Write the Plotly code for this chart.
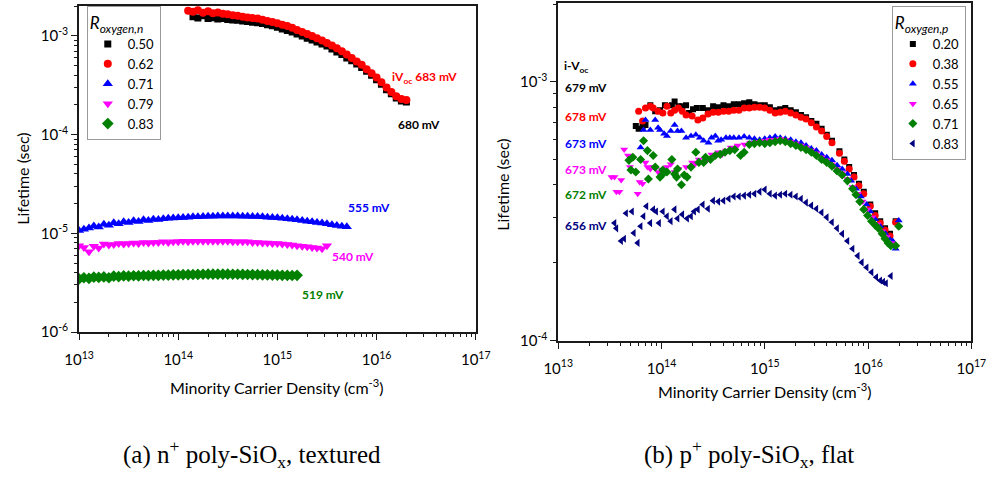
import plotly.graph_objects as go

W, H = 999, 477

# ---------------- (a) n+ poly-SiOx, textured ----------------
# carrier-density sampling of the lifetime sweeps (cm^-3)
n_left = [
    1.00e13, 1.12e13, 1.26e13, 1.41e13, 1.58e13, 1.78e13, 2.00e13, 2.24e13, 2.51e13, 2.82e13,
    3.16e13, 3.55e13, 3.98e13, 4.47e13, 5.01e13, 5.62e13, 6.31e13, 7.08e13, 7.94e13, 8.91e13,
    1.00e14, 1.12e14, 1.26e14, 1.41e14, 1.58e14, 1.78e14, 2.00e14, 2.24e14, 2.51e14, 2.82e14,
    3.16e14, 3.55e14, 3.98e14, 4.47e14, 5.01e14, 5.62e14, 6.31e14, 7.08e14, 7.94e14, 8.91e14,
    1.00e15, 1.12e15, 1.26e15, 1.41e15, 1.58e15, 1.78e15, 2.00e15, 2.24e15, 2.51e15, 2.82e15,
    3.16e15, 3.55e15, 3.98e15, 4.47e15, 5.01e15, 5.62e15, 6.31e15, 7.08e15, 7.94e15, 8.91e15,
    1.00e16, 1.12e16, 1.26e16, 1.41e16, 1.58e16, 1.78e16, 2.00e16,
]

# lifetimes (s); each series starts at the given index of n_left
tau_n050 = [
    1.57e-3, 1.52e-3, 1.60e-3, 1.50e-3, 1.53e-3, 1.49e-3, 1.50e-3, 1.47e-3, 1.45e-3, 1.44e-3,
    1.42e-3, 1.40e-3, 1.38e-3, 1.36e-3, 1.34e-3, 1.30e-3, 1.27e-3, 1.23e-3, 1.18e-3, 1.14e-3,
    1.10e-3, 1.05e-3, 1.00e-3, 9.5e-4, 9.1e-4, 8.7e-4, 8.3e-4, 7.9e-4, 7.4e-4, 6.9e-4,
    6.5e-4, 6.0e-4, 5.6e-4, 5.2e-4, 4.8e-4, 4.4e-4, 4.0e-4, 3.6e-4, 3.25e-4, 2.85e-4,
    2.6e-4, 2.35e-4, 2.2e-4, 2.14e-4,
]
tau_n062 = [
    1.80e-3, 1.76e-3, 1.82e-3, 1.72e-3, 1.78e-3, 1.70e-3, 1.73e-3, 1.68e-3, 1.66e-3, 1.62e-3,
    1.60e-3, 1.57e-3, 1.54e-3, 1.52e-3, 1.50e-3, 1.46e-3, 1.42e-3, 1.39e-3, 1.35e-3, 1.30e-3,
    1.26e-3, 1.21e-3, 1.15e-3, 1.10e-3, 1.05e-3, 1.00e-3, 9.5e-4, 9.0e-4, 8.5e-4, 8.0e-4,
    7.5e-4, 7.0e-4, 6.5e-4, 6.0e-4, 5.5e-4, 5.1e-4, 4.6e-4, 4.2e-4, 3.8e-4, 3.4e-4,
    3.0e-4, 2.7e-4, 2.45e-4, 2.3e-4, 2.25e-4,
]
tau_n071 = [
    1.07e-5, 1.10e-5, 1.13e-5, 1.19e-5, 1.16e-5, 1.24e-5, 1.21e-5, 1.28e-5, 1.25e-5, 1.31e-5,
    1.29e-5, 1.34e-5, 1.32e-5, 1.37e-5, 1.35e-5, 1.39e-5, 1.38e-5, 1.41e-5, 1.42e-5, 1.43e-5,
    1.44e-5, 1.45e-5, 1.46e-5, 1.47e-5, 1.47e-5, 1.48e-5, 1.49e-5, 1.49e-5, 1.50e-5, 1.50e-5,
    1.50e-5, 1.50e-5, 1.50e-5, 1.49e-5, 1.49e-5, 1.48e-5, 1.48e-5, 1.47e-5, 1.46e-5, 1.45e-5,
    1.44e-5, 1.42e-5, 1.41e-5, 1.39e-5, 1.37e-5, 1.35e-5, 1.33e-5, 1.31e-5, 1.29e-5, 1.27e-5,
    1.25e-5, 1.22e-5, 1.20e-5, 1.18e-5, 1.17e-5,
]
tau_n079 = [
    7.5e-6, 7.2e-6, 6.5e-6, 7.4e-6, 7.1e-6, 7.8e-6, 7.6e-6, 7.7e-6, 7.9e-6, 7.8e-6,
    7.9e-6, 8.0e-6, 7.9e-6, 8.1e-6, 8.0e-6, 8.1e-6, 8.1e-6, 8.2e-6, 8.1e-6, 8.2e-6,
    8.2e-6, 8.3e-6, 8.2e-6, 8.3e-6, 8.3e-6, 8.3e-6, 8.3e-6, 8.3e-6, 8.3e-6, 8.3e-6,
    8.3e-6, 8.2e-6, 8.2e-6, 8.2e-6, 8.2e-6, 8.1e-6, 8.1e-6, 8.0e-6, 8.0e-6, 7.9e-6,
    7.9e-6, 7.8e-6, 7.7e-6, 7.6e-6, 7.5e-6, 7.4e-6, 7.3e-6, 7.2e-6, 7.1e-6, 7.0e-6,
    7.5e-6,
]
tau_n083 = [
    3.45e-6, 3.55e-6, 3.50e-6, 3.60e-6, 3.58e-6, 3.62e-6, 3.55e-6, 3.68e-6, 3.65e-6, 3.70e-6,
    3.68e-6, 3.72e-6, 3.70e-6, 3.74e-6, 3.73e-6, 3.76e-6, 3.75e-6, 3.78e-6, 3.77e-6, 3.79e-6,
    3.80e-6, 3.81e-6, 3.82e-6, 3.83e-6, 3.84e-6, 3.85e-6, 3.86e-6, 3.86e-6, 3.86e-6, 3.86e-6,
    3.86e-6, 3.85e-6, 3.85e-6, 3.84e-6, 3.83e-6, 3.82e-6, 3.81e-6, 3.80e-6, 3.79e-6, 3.78e-6,
    3.77e-6, 3.76e-6, 3.75e-6, 3.74e-6, 3.76e-6,
]

# ---------------- (b) p+ poly-SiOx, flat ----------------
n_p020 = [
    5.64e13, 6.01e13, 6.56e13, 7.00e13, 7.80e13, 8.69e13, 9.68e13, 1.08e14, 1.26e14, 1.34e14,
    1.46e14, 1.59e14, 1.73e14, 1.85e14, 2.02e14, 2.20e14,
    2.51e14, 2.82e14, 3.16e14, 3.55e14, 3.98e14, 4.47e14, 5.01e14, 5.62e14, 6.31e14, 7.08e14,
    7.94e14, 8.91e14, 1.00e15, 1.12e15, 1.26e15, 1.41e15, 1.58e15, 1.78e15, 2.00e15, 2.24e15,
    2.51e15, 2.82e15, 3.16e15, 3.55e15, 3.98e15, 4.47e15,
    5.28e15, 5.89e15, 6.56e15, 7.31e15, 8.15e15, 9.08e15, 1.05e16, 1.17e16, 1.31e16, 1.46e16,
    1.63e16, 1.85e16,
]
tau_p020 = [
    6.76e-4, 6.59e-4, 6.76e-4, 6.82e-4, 8.13e-4, 7.71e-4, 7.78e-4, 8.13e-4, 8.13e-4, 8.41e-4,
    8.06e-4, 8.06e-4, 8.13e-4, 7.58e-4, 7.85e-4, 7.93e-4,
    7.93e-4, 7.78e-4, 8.06e-4, 7.99e-4, 8.13e-4, 8.06e-4, 8.20e-4, 8.20e-4, 8.27e-4, 8.34e-4,
    8.20e-4, 8.13e-4, 8.13e-4, 7.99e-4, 7.78e-4, 7.85e-4, 7.93e-4, 7.78e-4, 7.64e-4, 7.45e-4,
    7.31e-4, 7.06e-4, 6.89e-4, 6.59e-4, 6.25e-4, 5.93e-4,
    5.40e-4, 5.02e-4, 4.69e-4, 4.37e-4, 4.04e-4, 3.77e-4, 3.36e-4, 3.11e-4, 2.90e-4, 2.72e-4,
    2.59e-4, 2.90e-4,
]
n_p038 = [
    6.01e13, 6.56e13, 7.00e13, 7.80e13, 8.32e13, 9.27e13, 1.03e14, 1.13e14, 1.23e14, 1.34e14,
    1.46e14, 1.59e14, 1.73e14, 1.98e14, 2.25e14,
    2.51e14, 2.82e14, 3.16e14, 3.55e14, 3.98e14, 4.47e14, 5.01e14, 5.62e14, 6.31e14, 7.08e14,
    7.94e14, 8.91e14, 1.00e15, 1.12e15, 1.26e15, 1.41e15, 1.58e15, 1.78e15, 2.00e15, 2.24e15,
    2.51e15, 2.82e15, 3.16e15, 3.55e15, 3.98e15, 4.47e15,
    5.28e15, 5.89e15, 6.56e15, 7.31e15, 8.15e15, 9.08e15, 1.05e16, 1.17e16, 1.31e16, 1.46e16,
    1.63e16, 1.85e16,
]
tau_p038 = [
    7.71e-4, 7.06e-4, 7.93e-4, 8.06e-4, 7.93e-4, 7.71e-4, 7.58e-4, 8.06e-4, 7.58e-4, 7.78e-4,
    7.93e-4, 7.71e-4, 7.45e-4, 7.38e-4, 7.13e-4,
    7.26e-4, 7.52e-4, 7.64e-4, 7.64e-4, 7.71e-4, 7.71e-4, 7.78e-4, 7.78e-4, 7.93e-4, 7.93e-4,
    7.99e-4, 7.99e-4, 7.93e-4, 7.78e-4, 7.58e-4, 7.64e-4, 7.71e-4, 7.58e-4, 7.45e-4, 7.31e-4,
    7.19e-4, 6.95e-4, 6.70e-4, 6.47e-4, 6.15e-4, 5.83e-4,
    5.30e-4, 4.94e-4, 4.61e-4, 4.29e-4, 3.97e-4, 3.70e-4, 3.31e-4, 3.05e-4, 2.85e-4, 2.68e-4,
    2.54e-4, 2.87e-4,
]
n_p055 = [
    6.28e13, 6.70e13, 7.00e13, 7.80e13, 8.69e13, 9.27e13, 9.68e13, 1.06e14, 1.13e14, 1.23e14,
    1.34e14, 1.43e14, 1.56e14, 1.73e14, 1.93e14, 2.15e14, 2.35e14, 2.56e14, 2.85e14, 3.05e14,
    3.32e14, 3.54e14, 3.78e14, 4.21e14, 4.59e14,
    5.01e14, 5.62e14, 6.31e14, 7.08e14, 7.94e14, 8.91e14, 1.00e15, 1.12e15, 1.26e15, 1.41e15,
    1.58e15, 1.78e15, 2.00e15, 2.24e15, 2.51e15, 2.82e15, 3.16e15, 3.55e15, 3.98e15, 4.47e15,
    5.01e15, 5.62e15, 6.31e15,
    6.85e15, 7.64e15, 8.51e15, 9.68e15, 1.05e16, 1.17e16, 1.31e16, 1.46e16, 1.59e16, 1.73e16,
    1.85e16, 1.98e16,
]
tau_p055 = [
    5.58e-4, 6.53e-4, 7.13e-4, 6.53e-4, 7.13e-4, 6.65e-4, 6.53e-4, 6.31e-4, 6.19e-4, 6.47e-4,
    6.82e-4, 6.47e-4, 6.47e-4, 6.09e-4, 6.19e-4, 6.25e-4, 6.09e-4, 5.93e-4, 5.83e-4, 6.09e-4,
    6.19e-4, 5.93e-4, 5.98e-4, 6.09e-4, 6.09e-4,
    6.09e-4, 6.09e-4, 6.15e-4, 6.09e-4, 6.04e-4, 5.98e-4, 6.04e-4, 6.09e-4, 6.15e-4, 6.09e-4,
    6.04e-4, 5.98e-4, 5.88e-4, 5.83e-4, 5.68e-4, 5.53e-4, 5.43e-4, 5.25e-4, 5.12e-4, 4.98e-4,
    4.77e-4, 4.61e-4, 4.41e-4,
    4.15e-4, 3.87e-4, 3.61e-4, 3.36e-4, 3.16e-4, 2.95e-4, 2.77e-4, 2.61e-4, 2.49e-4, 2.43e-4,
    2.27e-4, 2.92e-4,
]
n_p065 = [
    3.28e13, 3.51e13, 3.66e13, 3.91e13, 4.07e13, 4.35e13, 4.74e13, 4.95e13, 5.89e13, 6.15e13,
    6.56e13, 7.00e13, 7.31e13, 7.80e13, 8.32e13, 9.27e13, 1.01e14, 1.13e14, 1.23e14, 1.34e14,
    1.46e14, 1.73e14, 1.98e14, 2.11e14, 2.30e14, 2.74e14, 3.05e14, 3.54e14, 3.86e14, 4.21e14,
    4.69e14, 5.46e14, 6.35e14, 7.23e14, 8.41e14,
    1.00e15, 1.12e15, 1.26e15, 1.41e15, 1.58e15, 1.78e15, 2.00e15, 2.24e15, 2.51e15, 2.82e15,
    3.16e15, 3.55e15, 3.98e15, 4.47e15, 5.01e15, 5.62e15, 6.31e15, 7.08e15,
    7.96e15, 8.87e15, 9.89e15, 1.10e16, 1.23e16, 1.37e16, 1.52e16, 1.70e16,
]
tau_p065 = [
    4.29e-4, 4.29e-4, 3.77e-4, 3.77e-4, 4.18e-4, 5.48e-4, 5.20e-4, 4.69e-4, 3.70e-4, 4.11e-4,
    4.04e-4, 4.89e-4, 4.69e-4, 4.61e-4, 4.69e-4, 4.49e-4, 4.57e-4, 4.69e-4, 4.81e-4, 4.49e-4,
    4.61e-4, 4.69e-4, 4.89e-4, 4.81e-4, 5.02e-4, 4.98e-4, 5.25e-4, 5.35e-4, 5.25e-4, 5.43e-4,
    5.58e-4, 5.68e-4, 5.73e-4, 5.83e-4, 5.88e-4,
    5.93e-4, 5.98e-4, 5.98e-4, 6.04e-4, 5.98e-4, 5.88e-4, 5.78e-4, 5.68e-4, 5.58e-4, 5.43e-4,
    5.30e-4, 5.12e-4, 4.98e-4, 4.81e-4, 4.61e-4, 4.45e-4, 4.22e-4, 3.93e-4,
    3.70e-4, 3.45e-4, 3.22e-4, 3.00e-4, 2.82e-4, 2.65e-4, 2.52e-4, 2.39e-4,
]
n_p071 = [
    4.84e13, 5.06e13, 5.28e13, 5.64e13, 6.28e13, 6.70e13, 7.31e13, 7.47e13, 8.32e13, 8.69e13,
    9.68e13, 1.01e14, 1.03e14, 1.13e14, 1.26e14, 1.34e14, 1.40e14, 1.43e14, 1.56e14, 1.66e14,
    1.77e14, 1.93e14, 2.15e14, 2.30e14, 2.56e14, 2.67e14, 2.98e14, 3.32e14, 3.70e14, 4.12e14,
    4.59e14, 5.12e14, 5.82e14,
    6.31e14, 7.08e14, 7.94e14, 8.91e14, 1.00e15, 1.12e15, 1.26e15, 1.41e15, 1.58e15, 1.78e15,
    2.00e15, 2.24e15, 2.51e15, 2.82e15, 3.16e15, 3.55e15, 3.98e15, 4.47e15, 5.01e15, 5.62e15,
    6.31e15, 7.08e15,
    7.64e15, 8.32e15, 9.08e15, 9.89e15, 1.08e16, 1.17e16, 1.26e16, 1.37e16, 1.46e16, 1.56e16,
    1.66e16, 1.85e16, 1.98e16,
]
tau_p071 = [
    4.98e-4, 4.57e-4, 5.12e-4, 4.49e-4, 5.02e-4, 5.93e-4, 5.43e-4, 4.22e-4, 5.20e-4, 4.69e-4,
    4.29e-4, 4.37e-4, 4.57e-4, 4.49e-4, 5.02e-4, 4.41e-4, 4.29e-4, 4.61e-4, 4.01e-4, 4.37e-4,
    4.29e-4, 4.69e-4, 5.35e-4, 4.89e-4, 4.89e-4, 5.12e-4, 5.02e-4, 5.20e-4, 5.25e-4, 5.35e-4,
    5.43e-4, 5.48e-4, 5.20e-4,
    5.35e-4, 5.73e-4, 5.78e-4, 5.83e-4, 5.78e-4, 5.83e-4, 5.88e-4, 5.93e-4, 5.88e-4, 5.78e-4,
    5.68e-4, 5.58e-4, 5.48e-4, 5.35e-4, 5.20e-4, 5.02e-4, 4.89e-4, 4.73e-4, 4.53e-4, 4.37e-4,
    4.15e-4, 3.87e-4,
    3.67e-4, 3.45e-4, 3.22e-4, 3.05e-4, 2.90e-4, 2.80e-4, 2.72e-4, 2.59e-4, 2.48e-4, 2.39e-4,
    2.33e-4, 2.33e-4, 2.77e-4,
]
n_p083 = [
    3.51e13, 3.66e13, 4.07e13, 4.35e13, 4.54e13, 5.18e13, 5.40e13, 5.89e13, 6.28e13, 6.70e13,
    7.15e13, 7.80e13, 8.32e13, 8.87e13, 9.48e13, 1.03e14, 1.13e14, 1.23e14, 1.34e14, 1.43e14,
    1.59e14, 1.77e14, 1.93e14, 2.07e14, 2.25e14,
    2.51e14, 2.82e14, 3.16e14, 3.55e14, 3.98e14, 4.47e14, 5.01e14, 5.62e14, 6.31e14, 7.08e14,
    7.94e14, 8.91e14, 1.00e15, 1.12e15, 1.26e15, 1.41e15, 1.58e15, 1.78e15, 2.00e15, 2.24e15,
    2.51e15, 2.82e15, 3.16e15, 3.55e15, 3.98e15, 4.47e15, 5.01e15, 5.62e15, 6.31e15, 7.08e15,
    7.94e15,
    8.69e15, 9.68e15, 1.08e16, 1.20e16, 1.31e16, 1.40e16, 1.49e16, 1.66e16,
]
tau_p083 = [
    2.85e-4, 2.72e-4, 2.43e-4, 2.48e-4, 3.11e-4, 3.16e-4, 2.61e-4, 2.39e-4, 2.77e-4, 3.03e-4,
    3.31e-4, 2.85e-4, 3.22e-4, 3.16e-4, 2.85e-4, 3.16e-4, 3.03e-4, 2.90e-4, 3.22e-4, 2.97e-4,
    3.08e-4, 2.97e-4, 3.03e-4, 3.16e-4, 3.22e-4,
    3.36e-4, 3.24e-4, 3.48e-4, 3.45e-4, 3.48e-4, 3.54e-4, 3.61e-4, 3.61e-4, 3.64e-4, 3.67e-4,
    3.70e-4, 3.77e-4, 3.84e-4, 3.70e-4, 3.64e-4, 3.67e-4, 3.70e-4, 3.67e-4, 3.61e-4, 3.54e-4,
    3.42e-4, 3.33e-4, 3.24e-4, 3.13e-4, 3.00e-4, 2.87e-4, 2.72e-4, 2.59e-4, 2.43e-4, 2.27e-4,
    2.13e-4,
    2.01e-4, 1.92e-4, 1.84e-4, 1.76e-4, 1.71e-4, 1.69e-4, 1.67e-4, 1.78e-4,
]

# legend entries and implied-Voc labels
ratio_n = ["0.50", "0.62", "0.71", "0.79", "0.83"]
ratio_p = ["0.20", "0.38", "0.55", "0.65", "0.71", "0.83"]
ivoc_n = ["680 mV", "683 mV", "555 mV", "540 mV", "519 mV"]
ivoc_p = ["679 mV", "678 mV", "673 mV", "673 mV", "672 mV", "656 mV"]

# axis tick labels
x_ticks = [1e13, 1e14, 1e15, 1e16, 1e17]
x_tick_text = ["10<sup>13</sup>", "10<sup>14</sup>", "10<sup>15</sup>", "10<sup>16</sup>", "10<sup>17</sup>"]
y_ticks_a = [1e-6, 1e-5, 1e-4, 1e-3]
y_tick_text_a = ["10<sup>-6</sup>", "10<sup>-5</sup>", "10<sup>-4</sup>", "10<sup>-3</sup>"]
y_ticks_b = [1e-4, 1e-3]
y_tick_text_b = ["10<sup>-4</sup>", "10<sup>-3</sup>"]

BLACK, RED, BLUE, MAGENTA, GREEN, NAVY = "#000000", "#FF0000", "#0000FF", "#FF00FF", "#008000", "#000080"
SANS = "Lato"


def fx(px):
    return px / W


def fy(py):
    return 1 - py / H


fig = go.Figure()

# panel (a) traces
left_series = [
    (tau_n050, 23, BLACK, "square", 7),
    (tau_n062, 22, RED, "circle", 8),
    (tau_n071, 0, BLUE, "triangle-up", 9),
    (tau_n079, 0, MAGENTA, "triangle-down", 9),
    (tau_n083, 0, GREEN, "diamond", 9),
]
for name, (tau, start, color, symbol, size) in zip(ratio_n, left_series):
    fig.add_trace(go.Scatter(
        x=n_left[start:start + len(tau)], y=tau, mode="markers", name=name,
        marker=dict(symbol=symbol, color=color, size=size, line=dict(width=0)),
        xaxis="x", yaxis="y", legend="legend",
    ))

# panel (b) traces
right_series = [
    (n_p020, tau_p020, BLACK, "square", 6),
    (n_p038, tau_p038, RED, "circle", 7),
    (n_p055, tau_p055, BLUE, "triangle-up", 7),
    (n_p065, tau_p065, MAGENTA, "triangle-down", 7),
    (n_p071, tau_p071, GREEN, "diamond", 7),
    (n_p083, tau_p083, NAVY, "triangle-left", 7),
]
for name, (n, tau, color, symbol, size) in zip(ratio_p, right_series):
    fig.add_trace(go.Scatter(
        x=n, y=tau, mode="markers", name=name,
        marker=dict(symbol=symbol, color=color, size=size, line=dict(width=0)),
        xaxis="x2", yaxis="y2", legend="legend2",
    ))

minor_x = [m * 10 ** e for e in range(13, 17) for m in range(2, 10)]
minor_ya = [m * 10.0 ** e for e in range(-6, -3) for m in range(2, 10)] + [2e-3]
minor_yb = [m * 10.0 ** -4 for m in range(2, 10)] + [2e-3]

AX = dict(
    type="log", showline=True, linecolor="#1a1a1a", linewidth=1.6, mirror=True,
    ticks="outside", ticklen=6, tickwidth=1.4, tickcolor="#1a1a1a",
    showgrid=False, zeroline=False, tickmode="array",
    tickfont=dict(family=SANS, size=15, color="black"),
)


def minor(vals):
    return dict(tickmode="array", tickvals=vals, ticks="outside", ticklen=3.5,
                tickwidth=1.2, tickcolor="#1a1a1a", showgrid=False)


LEGEND = dict(
    xanchor="left", yanchor="top",
    bgcolor="white", bordercolor="#9a9a9a", borderwidth=1,
    font=dict(family=SANS, size=13, color="black"),
    tracegroupgap=0, itemwidth=30,
)

fig.update_layout(
    width=W, height=H, margin=dict(l=0, r=0, t=0, b=0),
    paper_bgcolor="white", plot_bgcolor="white",
    font=dict(family=SANS, color="black"),
    xaxis=dict(AX, domain=[fx(66), fx(475)], range=[13, 17], anchor="y",
               tickvals=x_ticks, ticktext=x_tick_text, minor=minor(minor_x),
               ticklabelstandoff=7),
    yaxis=dict(AX, domain=[fy(337.7), fy(6)], range=[-6, -2.695], anchor="x",
               tickvals=y_ticks_a, ticktext=y_tick_text_a, minor=minor(minor_ya)),
    xaxis2=dict(AX, domain=[fx(560), fx(986)], range=[13, 17], anchor="y2",
                tickvals=x_ticks, ticktext=x_tick_text, minor=minor(minor_x),
                ticklabelstandoff=7),
    yaxis2=dict(AX, domain=[fy(346.7), fy(3.3)], range=[-4, -2.696], anchor="x2",
                tickvals=y_ticks_b, ticktext=y_tick_text_b, minor=minor(minor_yb)),
    legend=dict(LEGEND, x=fx(74), y=fy(6),
                title=dict(text="<i>R</i><sub><i>oxygen,n</i></sub>",
                           font=dict(family=SANS, size=17))),
    legend2=dict(LEGEND, x=fx(904), y=fy(6),
                 title=dict(text="<i>R</i><sub><i>oxygen,p</i></sub>",
                            font=dict(family=SANS, size=17))),
    showlegend=True,
)

ann = []


def label(text, px, py, color="black", size=12, bold=True, xanchor="center", family=SANS, angle=0):
    ann.append(dict(
        text=f"<b>{text}</b>" if bold else text, x=fx(px), y=fy(py), xref="paper", yref="paper",
        xanchor=xanchor, yanchor="middle", showarrow=False, textangle=angle,
        font=dict(family=family, size=size, color=color),
    ))


# implied-Voc labels, panel (a)
label("iV<sub>oc</sub> " + ivoc_n[1], 422, 79, RED)
label(ivoc_n[0], 417, 127, BLACK)
label(ivoc_n[2], 365, 211, BLUE)
label(ivoc_n[3], 348, 261, MAGENTA)
label(ivoc_n[4], 318, 300, GREEN)

# implied-Voc labels, panel (b)
label("i-V<sub>oc</sub>", 564, 68, BLACK, xanchor="left")
for text, color, py in zip(ivoc_p, [BLACK, RED, BLUE, MAGENTA, GREEN, NAVY], [89, 118, 146, 172, 198, 229]):
    label(text, 565, py, color, xanchor="left")

# axis titles
label("Lifetime (sec)", 8, 182, size=16, bold=False, angle=-90)
label("Lifetime (sec)", 503, 188, size=16, bold=False, angle=-90)
label("Minority Carrier Density (cm<sup>-3</sup>)", 270, 393, size=16, bold=False)
label("Minority Carrier Density (cm<sup>-3</sup>)", 773, 397, size=16, bold=False)

# panel captions
label("(a) n<sup>+</sup> poly-SiO<sub>x</sub>, textured", 244, 462, size=25, bold=False,
      family="Liberation Serif")
label("(b) p<sup>+</sup> poly-SiO<sub>x</sub>, flat", 757, 462, size=25, bold=False,
      family="Liberation Serif")

fig.update_layout(annotations=ann)
fig.write_html("out.html")
